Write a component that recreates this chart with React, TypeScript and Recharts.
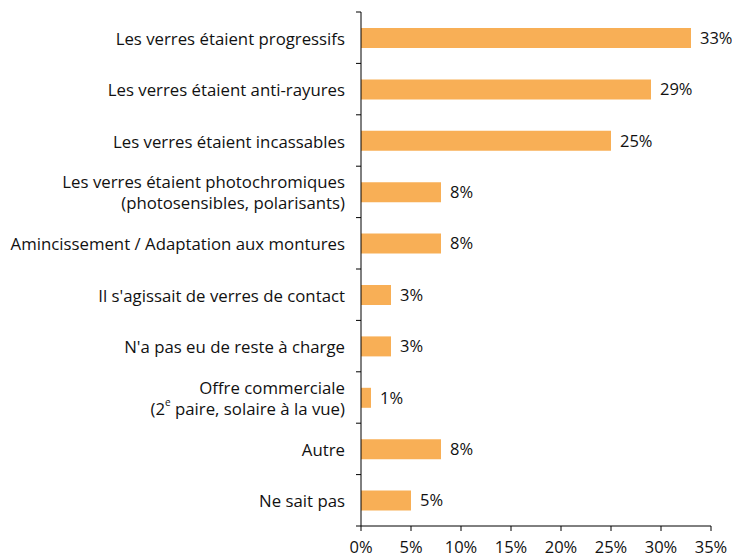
import React from "react";
import { BarChart, Bar, XAxis, YAxis, LabelList } from "recharts";

const categories = [
  "Les verres étaient progressifs",
  "Les verres étaient anti-rayures",
  "Les verres étaient incassables",
  "Les verres étaient photochromiques|(photosensibles, polarisants)",
  "Amincissement / Adaptation aux montures",
  "Il s'agissait de verres de contact",
  "N'a pas eu de reste à charge",
  "Offre commerciale|(2e paire, solaire à la vue)",
  "Autre",
  "Ne sait pas",
];
const values = [33, 29, 25, 8, 8, 3, 3, 1, 8, 5];
const xTicks = [0, 5, 10, 15, 20, 25, 30, 35];

const data = categories.map((name, i) => ({ name, value: values[i] }));

const W = 732;
const H = 558;
const M = { top: 12, right: 21, bottom: 2, left: 0 };
const X_AXIS_H = 30;
const BAND = (H - M.top - M.bottom - X_AXIS_H) / categories.length;
const FONT = "'Open Sans', sans-serif";
const TEXT = "#111";

const CategoryTick = (props: any) => {
  const { x, y, payload } = props;
  const lines: string[] = String(payload.value).split("|");
  const lh = 21;
  const y0 = y - ((lines.length - 1) * lh) / 2;
  const tx = x - 16;
  return (
    <g>
      <line x1={x - 5} x2={x} y1={y - BAND / 2} y2={y - BAND / 2} stroke="#000" />
      {payload.index === categories.length - 1 && (
        <line x1={x - 5} x2={x} y1={y + BAND / 2} y2={y + BAND / 2} stroke="#000" />
      )}
      <text x={tx} y={y0} textAnchor="end" fill={TEXT} fontSize={16.8} fontFamily={FONT} dominantBaseline="central">
        {lines.map((l, i) =>
          l.startsWith("(2e") ? (
            <tspan key={i} x={tx} y={y0 + i * lh}>
              (2<tspan fontSize={10} dy={-6}>e</tspan>
              <tspan dy={6}>{l.slice(3)}</tspan>
            </tspan>
          ) : (
            <tspan key={i} x={tx} y={y0 + i * lh}>{l}</tspan>
          )
        )}
      </text>
    </g>
  );
};

export default function App() {
  return (
    <div style={{ position: "absolute", left: 0, top: 0, width: W, height: H, background: "#fff" }}>
      <BarChart width={W} height={H} data={data} layout="vertical" margin={M}>
        <XAxis
          type="number"
          domain={[0, 35]}
          ticks={xTicks}
          tickFormatter={(v: number) => `${v}%`}
          height={X_AXIS_H}
          axisLine={{ stroke: "#000" }}
          tickLine={{ stroke: "#000" }}
          tickSize={5}
          tickMargin={10}
          tick={{ fill: TEXT, fontSize: 16.5, fontFamily: FONT }}
          interval={0}
        />
        <YAxis
          type="category"
          dataKey="name"
          width={361}
          axisLine={{ stroke: "#000" }}
          tickLine={false}
          tickSize={0}
          tickMargin={0}
          tick={<CategoryTick />}
          interval={0}
        />
        <Bar dataKey="value" fill="#F8AF56" barSize={20} isAnimationActive={false}>
          <LabelList
            dataKey="value"
            position="right"
            offset={9}
            formatter={(v: any) => `${v}%`}
            fill={TEXT}
            fontSize={16.5}
            fontFamily={FONT}
          />
        </Bar>
      </BarChart>
    </div>
  );
}
